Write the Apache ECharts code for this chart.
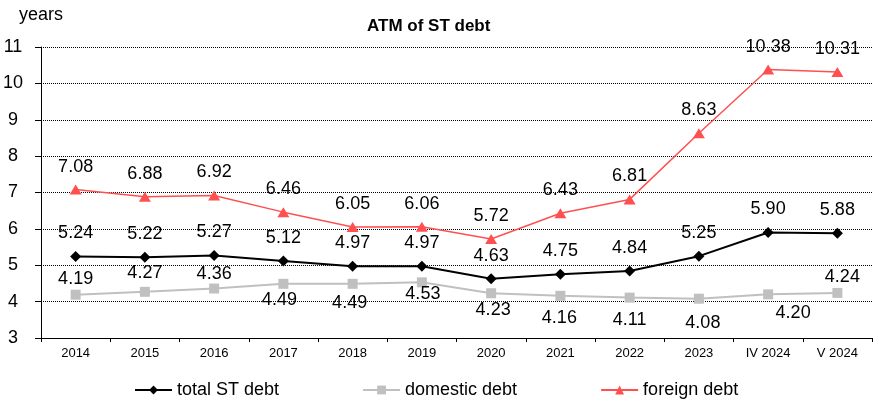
<!DOCTYPE html>
<html>
<head>
<meta charset="utf-8">
<script src="https://cdn.jsdelivr.net/npm/echarts@6/dist/echarts.min.js"></script>
<style>
  html, body { margin: 0; padding: 0; background: #fff; }
  #chart { width: 881px; height: 403px; }
</style>
</head>
<body>
<div id="chart"></div>
<script>
// data
const categories = ['2014', '2015', '2016', '2017', '2018', '2019', '2020', '2021', '2022', '2023', 'IV 2024', 'V 2024']
const totalDebt = [5.24, 5.22, 5.27, 5.12, 4.97, 4.97, 4.63, 4.75, 4.84, 5.25, 5.90, 5.88]
const domesticDebt = [4.19, 4.27, 4.36, 4.49, 4.49, 4.53, 4.23, 4.16, 4.11, 4.08, 4.20, 4.24]
const foreignDebt = [7.08, 6.88, 6.92, 6.46, 6.05, 6.06, 5.72, 6.43, 6.81, 8.63, 10.38, 10.31]

const FONT = 'Liberation Sans, Arial, sans-serif'

// label placement (offset from the marker centre), as in the original
const domesticShift = [[0, -16], [0, -19], [0, -14], [-4, 16], [-3, 19], [1, 12], [2, 17], [-1, 22], [0, 22], [4, 24], [25, 19], [5, -16]]

const withLabels = (values, shifts) => values.map((v, i) => ({
  value: v,
  label: { offset: shifts ? shifts[i] : [0, -23] }
}))

const labelStyle = {
  show: true,
  position: 'inside',
  color: '#000',
  fontSize: 18,
  fontFamily: FONT,
  textBorderWidth: 0,
  formatter: p => p.value.toFixed(2)
}

const chart = echarts.init(document.getElementById('chart'))

chart.setOption({
  animation: false,
  textStyle: { fontFamily: FONT },
  title: {
    text: 'ATM of ST debt',
    left: 367,
    top: 18,
    padding: 0,
    textStyle: { fontSize: 17, fontWeight: 'bold', color: '#000', fontFamily: FONT }
  },
  legend: {
    left: 134,
    top: 381,
    padding: 0,
    itemGap: 83,
    itemWidth: 37,
    itemHeight: 11,
    textStyle: { fontSize: 18, color: '#000', fontFamily: FONT },
    data: ['total ST debt', 'domestic debt', 'foreign debt']
  },
  grid: { left: 39, right: 9, top: 47, bottom: 65 },
  xAxis: {
    type: 'category',
    data: categories,
    axisLine: { lineStyle: { color: '#000', width: 1 } },
    axisTick: { show: true, length: 4, lineStyle: { color: '#000' } },
    axisLabel: { fontSize: 13, color: '#000', margin: 9, interval: 0 }
  },
  yAxis: {
    type: 'value',
    min: 3,
    max: 11,
    interval: 1,
    name: 'years',
    nameGap: 23,
    nameTextStyle: { fontSize: 18, color: '#000', fontFamily: FONT },
    axisLine: { show: true, lineStyle: { color: '#000', width: 1 } },
    axisTick: { show: true, length: 6, lineStyle: { color: '#000' } },
    axisLabel: { fontSize: 18, color: '#000', margin: 28, align: 'center' },
    splitLine: { lineStyle: { color: '#000', type: [1, 1], width: 1 } }
  },
  series: [
    {
      name: 'total ST debt',
      type: 'line',
      data: withLabels(totalDebt),
      symbol: 'diamond',
      symbolSize: 11,
      lineStyle: { color: '#000', width: 2 },
      itemStyle: { color: '#000' },
      label: labelStyle,
      z: 3
    },
    {
      name: 'domestic debt',
      type: 'line',
      data: withLabels(domesticDebt, domesticShift),
      symbol: 'rect',
      symbolSize: 10,
      lineStyle: { color: '#c0c0c0', width: 2 },
      itemStyle: { color: '#c0c0c0' },
      label: labelStyle,
      z: 2
    },
    {
      name: 'foreign debt',
      type: 'line',
      data: withLabels(foreignDebt),
      symbol: 'triangle',
      symbolSize: [12, 10],
      lineStyle: { color: '#ff5050', width: 1.5 },
      itemStyle: { color: '#ff5050' },
      label: labelStyle,
      z: 4
    }
  ]
})
</script>
</body>
</html>
